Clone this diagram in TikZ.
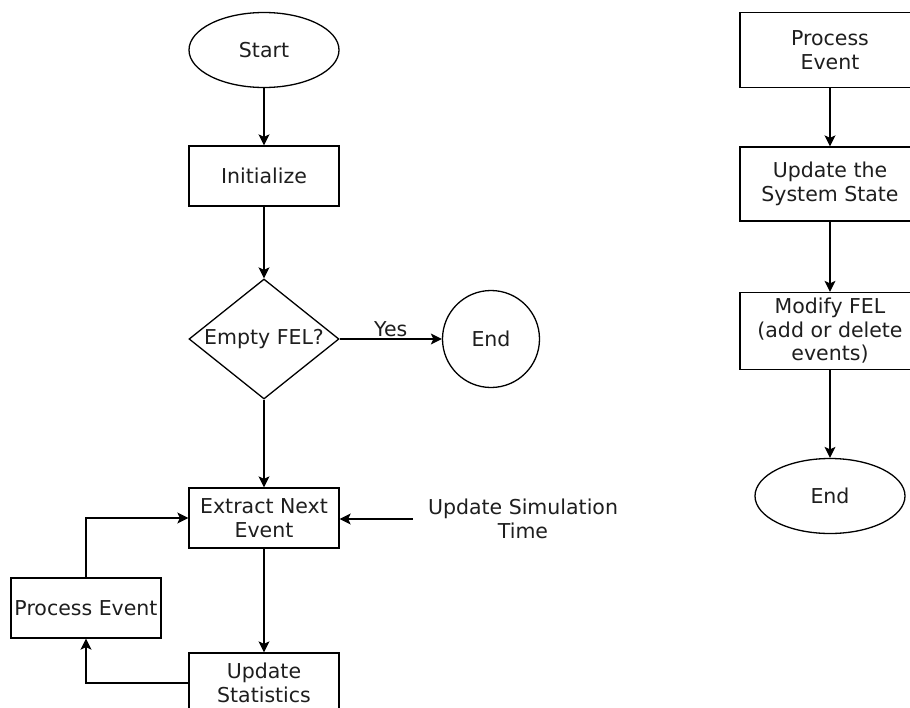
\documentclass[tikz,border=0pt]{standalone}
\usepackage{fontspec}
\setmainfont{DejaVu Sans}
\usetikzlibrary{shapes.geometric,arrows.meta}
\definecolor{ink}{HTML}{1E1E1E}
\begin{document}
\begin{tikzpicture}[x=1pt,y=-1pt,
  every node/.style={font=\fontsize{20.5}{23.5}\selectfont, text=ink, align=center},
  base/.style={draw=black, line width=1.3pt, inner sep=0pt},
  procbox/.style={base, rectangle, minimum width=150pt, minimum height=60pt},
  widebox/.style={base, rectangle, minimum width=180pt},
  terminal/.style={base, ellipse, minimum width=150pt, minimum height=75pt},
  decision/.style={base, diamond, minimum width=150pt, minimum height=120pt, shape aspect=1.25},
  flow/.style={draw=black, line width=1.3pt, -{Stealth[length=11pt,width=11pt,inset=2.5pt]}}
]
\useasboundingbox (0,0) rectangle (910,707);
\fill[white] (0,0) rectangle (910,707);
\clip (0,0) rectangle (910,707);

% main simulation loop
\node[terminal] (start) at (264,50) {Start};
\node[procbox] (init) at (264,176) {Initialize};
\node[decision, label={center:Empty FEL?}] (dec) at (264,339) {};
\node[base, circle, minimum size=97pt] (endA) at (491,339) {End};
\node[procbox] (extract) at (264,518) {Extract Next\\Event};
\node[inner xsep=15pt, inner ysep=0pt] (upsim) at (523,519) {Update Simulation\\Time};
\node[procbox] (procL) at (86,608) {Process Event};
\node[procbox] (stats) at (264,683) {Update\\Statistics};

\draw[flow] (start) -- (init);
\draw[flow] (init) -- (dec);
\draw[flow] (dec.east) -- node[above, inner sep=3pt, yshift=-1pt] (yes) {Yes} (endA.west);
\draw[flow] (dec.south) -- (extract.north);
\draw[flow] (upsim.west) -- (upsim.west -| extract.east);
\draw[flow] (extract) -- (stats);
\draw[flow] (stats.west) -| (procL.south);
\draw[flow] (procL.north) |- (extract.west);

% event processing routine
\node[widebox, minimum height=75pt] (procR) at (830,50) {Process\\Event};
\node[widebox, minimum height=74pt] (state) at (830,184) {Update the\\System State};
\node[widebox, minimum height=77pt] (modify) at (830,331) {Modify FEL\\(add or delete\\events)};
\node[terminal] (endB) at (830,496) {End};

\draw[flow] (procR) -- (state);
\draw[flow] (state) -- (modify);
\draw[flow] (modify) -- (endB);
\end{tikzpicture}
\end{document}
